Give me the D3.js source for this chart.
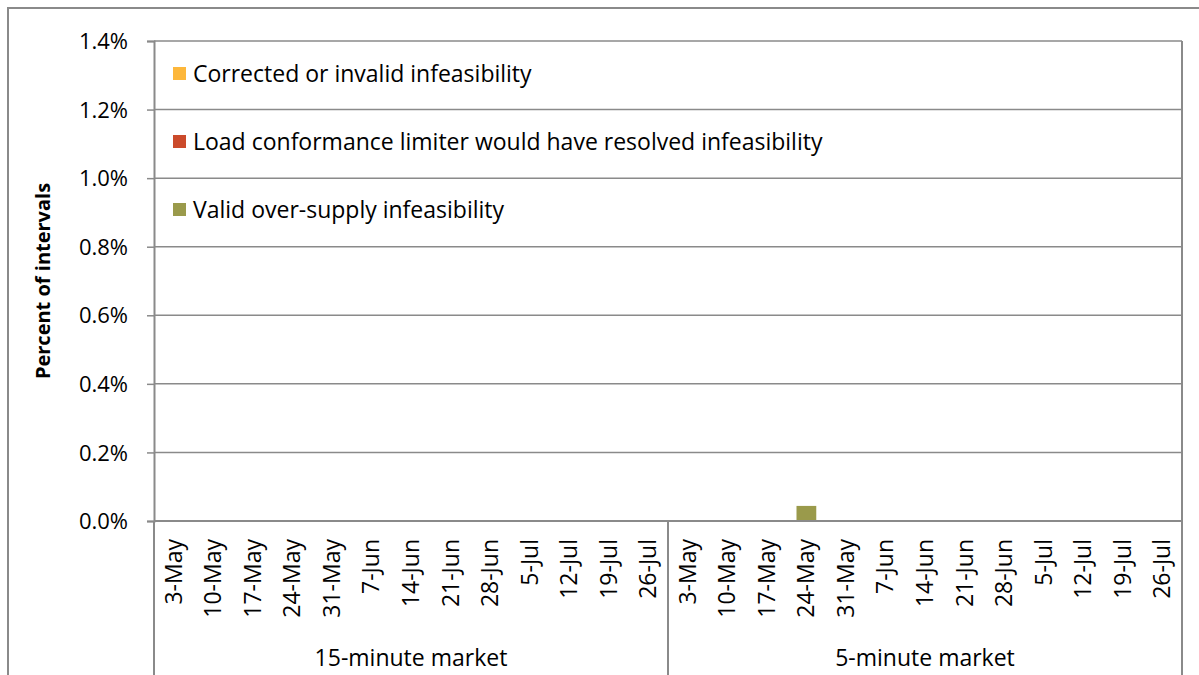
<!DOCTYPE html>
<html lang="en">
<head>
<meta charset="utf-8">
<title>Infeasibilities</title>
<script src="https://cdn.jsdelivr.net/npm/d3@7"></script>
<style>
  body { margin: 0; background: #fff; }
  text { font-family: "Open Sans", "Noto Sans", sans-serif; fill: #000; }
</style>
</head>
<body>
<script>
// categories
var weeks = ["3-May", "10-May", "17-May", "24-May", "31-May", "7-Jun", "14-Jun",
             "21-Jun", "28-Jun", "5-Jul", "12-Jul", "19-Jul", "26-Jul"];
var markets = ["15-minute market", "5-minute market"];

// series values, percent of intervals (15-minute weeks, then 5-minute weeks)
var correctedInvalid = [0,0,0,0,0,0,0,0,0,0,0,0,0,
                        0,0,0,0,0,0,0,0,0,0,0,0,0];
var loadConformance  = [0,0,0,0,0,0,0,0,0,0,0,0,0,
                        0,0,0,0,0,0,0,0,0,0,0,0,0];
var validOverSupply  = [0,0,0,0,0,0,0,0,0,0,0,0,0,
                        0,0,0,0.044,0,0,0,0,0,0,0,0,0];

var seriesNames = ["Corrected or invalid infeasibility",
                   "Load conformance limiter would have resolved infeasibility",
                   "Valid over-supply infeasibility"];
var yTicks = [0, 0.2, 0.4, 0.6, 0.8, 1.0, 1.2, 1.4];

var colors = ["#fdb73b", "#cb4a2b", "#9a9a4b"];

var w = 1199, h = 675;
var margin = {left: 154, top: 41, right: 17, bottom: 154};
var gridColor = "#8a8a8a";

var svg = d3.select("body").append("svg")
  .attr("width", w).attr("height", h);

// outer chart border
svg.append("rect")
  .attr("x", 8).attr("y", 8)
  .attr("width", w + 10).attr("height", h + 10)
  .attr("fill", "none").attr("stroke", gridColor).attr("stroke-width", 2);

var x0 = margin.left, x1 = w - margin.right;
var y0 = h - margin.bottom, y1 = margin.top;

// table of rows for stacking
var keys = d3.range(weeks.length * markets.length);
var table = keys.map(function(i) {
  return {i: i, a: correctedInvalid[i], b: loadConformance[i], c: validOverSupply[i]};
});

var xScale = d3.scaleBand()
  .domain(keys)
  .range([x0, x1])
  .paddingInner(0.5)
  .paddingOuter(0.25);

var marketScale = d3.scaleBand()
  .domain(markets)
  .range([x0, x1]);

var yScale = d3.scaleLinear()
  .domain([0, 1.4])
  .range([y0, y1]);

// gridlines
svg.append("g").selectAll("line")
  .data(yTicks.slice(1))
  .enter().append("line")
  .attr("x1", x0).attr("x2", x1)
  .attr("y1", function(d) { return yScale(d); })
  .attr("y2", function(d) { return yScale(d); })
  .attr("stroke", gridColor).attr("stroke-width", 1.5);

// y axis
var yAxis = d3.axisLeft(yScale)
  .tickValues(yTicks)
  .tickSize(7)
  .tickPadding(19)
  .tickFormat(function(d) { return d.toFixed(1) + "%"; });

var ya = svg.append("g")
  .attr("transform", "translate(" + x0 + ",0)")
  .call(yAxis);
ya.select(".domain").attr("stroke", gridColor).attr("stroke-width", 2);
ya.selectAll(".tick line").attr("stroke", gridColor).attr("stroke-width", 1.5);
ya.selectAll(".tick text")
  .attr("font-size", "22px")
  .attr("font-family", "'Open Sans', sans-serif")
  .attr("dy", "0.35em");

// right plot border
svg.append("line")
  .attr("x1", x1).attr("x2", x1)
  .attr("y1", y1).attr("y2", h)
  .attr("stroke", gridColor).attr("stroke-width", 2);

// stacked bars
var stack = d3.stack().keys(["a", "b", "c"]);
var layers = stack(table);

svg.append("g").selectAll("g")
  .data(layers)
  .enter().append("g")
  .attr("fill", function(d, i) { return colors[i]; })
  .selectAll("rect")
  .data(function(d) { return d.filter(function(p) { return p[1] - p[0] > 0; }); })
  .enter().append("rect")
  .attr("x", function(d) { return xScale(d.data.i); })
  .attr("width", xScale.bandwidth())
  .attr("y", function(d) { return yScale(d[1]); })
  .attr("height", function(d) { return yScale(d[0]) - yScale(d[1]); });

// x axis baseline
svg.append("line")
  .attr("x1", x0).attr("x2", x1)
  .attr("y1", y0).attr("y2", y0)
  .attr("stroke", gridColor).attr("stroke-width", 2);

// left axis extension and market divider
svg.append("g").selectAll("line")
  .data([x0, marketScale(markets[1])])
  .enter().append("line")
  .attr("x1", function(d) { return d; })
  .attr("x2", function(d) { return d; })
  .attr("y1", y0).attr("y2", h)
  .attr("stroke", gridColor).attr("stroke-width", 2);

// week labels
svg.append("g").selectAll("text")
  .data(keys)
  .enter().append("text")
  .attr("transform", function(d) {
    return "translate(" + (xScale(d) + xScale.bandwidth() / 2 + 8) + "," + (y0 + 18) + ") rotate(-90)";
  })
  .attr("text-anchor", "end")
  .attr("font-size", "23px")
  .text(function(d) { return weeks[d % weeks.length]; });

// market labels
svg.append("g").selectAll("text")
  .data(markets)
  .enter().append("text")
  .attr("x", function(d) { return marketScale(d) + marketScale.bandwidth() / 2; })
  .attr("y", 666)
  .attr("text-anchor", "middle")
  .attr("font-size", "23px")
  .text(function(d) { return d; });

// y axis title
svg.append("text")
  .attr("transform", "translate(50," + ((y0 + y1) / 2) + ") rotate(-90)")
  .attr("text-anchor", "middle")
  .attr("font-size", "20px")
  .attr("font-weight", "bold")
  .text("Percent of intervals");

// legend
var legend = svg.append("g").selectAll("g")
  .data(seriesNames)
  .enter().append("g")
  .attr("transform", function(d, i) { return "translate(173," + (74 + i * 68) + ")"; });

legend.append("rect")
  .attr("x", 0).attr("y", -7)
  .attr("width", 13).attr("height", 13)
  .attr("fill", function(d, i) { return colors[i]; });

legend.append("text")
  .attr("x", 20).attr("y", 0)
  .attr("dy", "0.35em")
  .attr("font-size", "23px")
  .text(function(d) { return d; });
</script>
</body>
</html>
